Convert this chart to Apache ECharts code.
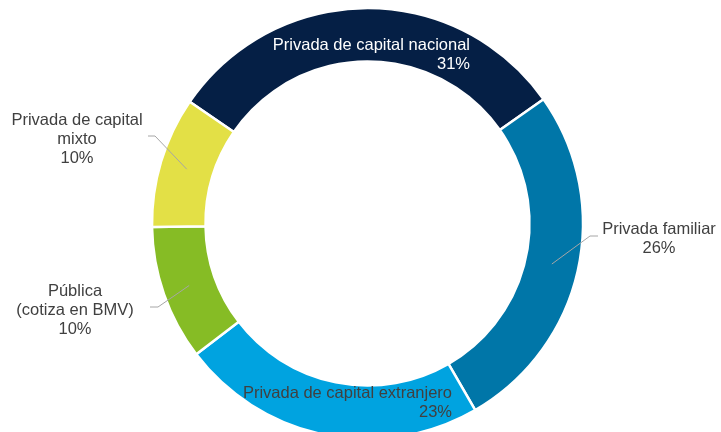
<!DOCTYPE html>
<html>
<head>
<meta charset="utf-8">
<script src="https://cdn.jsdelivr.net/npm/echarts@6/dist/echarts.min.js"></script>
<style>
  html, body { margin: 0; padding: 0; background: #fff; }
  #chart { width: 721px; height: 432px; }
</style>
</head>
<body>
<div id="chart"></div>
<script>
// tipos de empresa (orden en el sentido de las agujas del reloj, desde arriba)
const categories = [
  'Privada de capital nacional',
  'Privada familiar',
  'Privada de capital extranjero',
  'Pública\n(cotiza en BMV)',
  'Privada de capital\nmixto'
]
const shares = [30.6, 26.4, 22.9, 10.1, 9.8]
const pctLabels = ['31%', '26%', '23%', '10%', '10%']
const colors = ['#051f45', '#0076a8', '#00a3e0', '#86bc25', '#e3e046']

const CX = 367.5, CY = 223.5, R_IN = 162, R_OUT = 215.5
const START = 145.6

// posicion de cada etiqueta: [x, y, align, elbowX, elbowY, endX]
const labelSpots = [
  [470, 54.5, 'right'],
  [659, 239, 'center', 590, 236, 598],
  [452, 402.5, 'right'],
  [75, 310, 'center', 158, 307, 150],
  [77, 139, 'center', 155, 136, 148]
]
const insideIdx = [0, 2]

const total = shares.reduce((a, b) => a + b, 0)
const midAngle = i => {
  const before = shares.slice(0, i).reduce((a, b) => a + b, 0)
  return (START - 360 * (before + shares[i] / 2) / total) * Math.PI / 180
}

const labelFont = {
  fontFamily: 'Liberation Sans, Arial, sans-serif',
  fontSize: 16.5,
  lineHeight: 19,
  color: '#404040',
  formatter: p => p.name + '\n' + pctLabels[p.dataIndex]
}

const placeLabel = params => {
  const s = labelSpots[params.dataIndex]
  const out = { x: s[0], y: s[1], align: s[2], verticalAlign: 'middle' }
  if (s.length > 3) {
    const a = midAngle(params.dataIndex)
    const rm = (R_IN + R_OUT) / 2
    out.labelLinePoints = [
      [CX + rm * Math.cos(a), CY - rm * Math.sin(a)],
      [s[3], s[4]],
      [s[5], s[4]]
    ]
  }
  return out
}

const chart = echarts.init(document.getElementById('chart'))
chart.setOption({
  animation: false,
  series: [
    {
      // anillo con las etiquetas interiores
      type: 'pie',
      z: 2,
      center: [CX, CY],
      radius: [R_IN, R_OUT],
      startAngle: START,
      clockwise: true,
      avoidLabelOverlap: false,
      itemStyle: { borderColor: '#fff', borderWidth: 2.5 },
      label: labelFont,
      labelLayout: placeLabel,
      labelLine: { show: false },
      data: categories.map((name, i) => {
        const inside = insideIdx.includes(i)
        return {
          name: name,
          value: shares[i],
          itemStyle: { color: colors[i] },
          label: {
            show: inside,
            position: 'inside',
            color: i === 0 ? '#ffffff' : '#404040'
          }
        }
      })
    },
    {
      // capa transparente encima: etiquetas exteriores con sus lineas guia
      type: 'pie',
      z: 3,
      silent: true,
      center: [CX, CY],
      radius: [R_IN, R_OUT],
      startAngle: START,
      clockwise: true,
      avoidLabelOverlap: false,
      itemStyle: { color: 'rgba(0,0,0,0)', borderWidth: 0 },
      label: labelFont,
      labelLayout: placeLabel,
      labelLine: { show: true, lineStyle: { color: '#a6a6a6', width: 1 } },
      data: categories.map((name, i) => {
        const inside = insideIdx.includes(i)
        return {
          name: name,
          value: shares[i],
          label: { show: !inside, position: 'outside' },
          labelLine: { show: !inside }
        }
      })
    }
  ]
})
</script>
</body>
</html>
